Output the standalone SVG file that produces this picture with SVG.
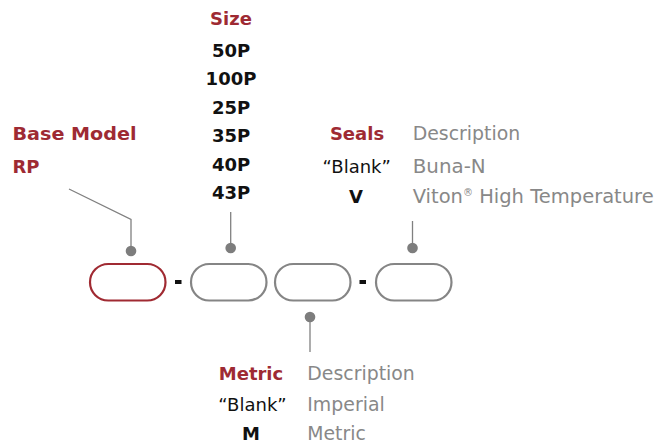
<svg xmlns="http://www.w3.org/2000/svg" width="655" height="445" viewBox="0 0 655 445">
<style>
text{font-family:"DejaVu Sans","Liberation Sans",sans-serif;font-size:18px}
.h{fill:#9e2a33;font-weight:bold}
.b{fill:#111;font-weight:bold}
.k{fill:#111}
.g{fill:#888;font-size:19px}
.pill{fill:none;stroke:#858585;stroke-width:2.2}
.red{stroke:#a02a32}
.ln{fill:none;stroke:#808080;stroke-width:1.3}
.dot{fill:#7d7d7d}
.dash{fill:#111}
</style>
<rect width="655" height="445" fill="#fff"/>
<g id="connectors">
<polyline class="ln" points="69,189 131,219.5 131,251"/>
<line class="ln" x1="230.7" y1="212" x2="230.7" y2="248"/>
<line class="ln" x1="412.5" y1="221" x2="412.5" y2="248"/>
<line class="ln" x1="310" y1="317" x2="310" y2="352"/>
<circle class="dot" cx="131" cy="251" r="5.3"/>
<circle class="dot" cx="230.7" cy="248" r="5.3"/>
<circle class="dot" cx="412.5" cy="248" r="5.3"/>
<circle class="dot" cx="310" cy="317" r="5.3"/>
</g>
<g id="base-model">
<text class="h" x="12.5" y="140" textLength="124" lengthAdjust="spacingAndGlyphs">Base Model</text>
<text class="h" x="12.5" y="173" textLength="27" lengthAdjust="spacingAndGlyphs">RP</text>
<rect class="pill red" x="90" y="264" width="75.5" height="36.5" rx="18.25"/>
</g>
<rect class="dash" x="175" y="280" width="6.5" height="4"/>
<g id="size">
<text class="h" x="231" y="25" text-anchor="middle">Size</text>
<text class="b" x="231" y="56.5" text-anchor="middle">50P</text>
<text class="b" x="231" y="85" text-anchor="middle">100P</text>
<text class="b" x="231" y="113.5" text-anchor="middle">25P</text>
<text class="b" x="231" y="142" text-anchor="middle">35P</text>
<text class="b" x="231" y="170.5" text-anchor="middle">40P</text>
<text class="b" x="231" y="199" text-anchor="middle">43P</text>
<rect class="pill" x="191" y="264" width="75.5" height="36.5" rx="18.25"/>
</g>
<g id="metric">
<rect class="pill" x="275" y="264" width="75.5" height="36.5" rx="18.25"/>
<text class="h" x="251" y="380" text-anchor="middle">Metric</text>
<text class="g" x="307.3" y="380" textLength="107.5" lengthAdjust="spacingAndGlyphs">Description</text>
<text class="k" x="252.5" y="411" text-anchor="middle">“Blank”</text>
<text class="g" x="307.3" y="411" textLength="77.5" lengthAdjust="spacingAndGlyphs">Imperial</text>
<text class="b" x="251" y="440" text-anchor="middle">M</text>
<text class="g" x="307.3" y="440" textLength="58.5" lengthAdjust="spacingAndGlyphs">Metric</text>
</g>
<rect class="dash" x="359.5" y="280" width="6.5" height="4"/>
<g id="seals">
<rect class="pill" x="376" y="264" width="75.5" height="36.5" rx="18.25"/>
<text class="h" x="357" y="139.5" text-anchor="middle">Seals</text>
<text class="g" x="412.7" y="139.5" textLength="107.5" lengthAdjust="spacingAndGlyphs">Description</text>
<text class="k" x="356.7" y="173.3" text-anchor="middle">“Blank”</text>
<text class="g" x="412.7" y="173.3" textLength="73" lengthAdjust="spacingAndGlyphs">Buna-N</text>
<text class="b" x="356" y="202.7" text-anchor="middle">V</text>
<text class="g" x="412.7" y="202.7" style="font-size:19.5px">Viton<tspan font-size="10" dy="-7">®</tspan><tspan dy="7"> High Temperature</tspan></text>
</g>
</svg>
